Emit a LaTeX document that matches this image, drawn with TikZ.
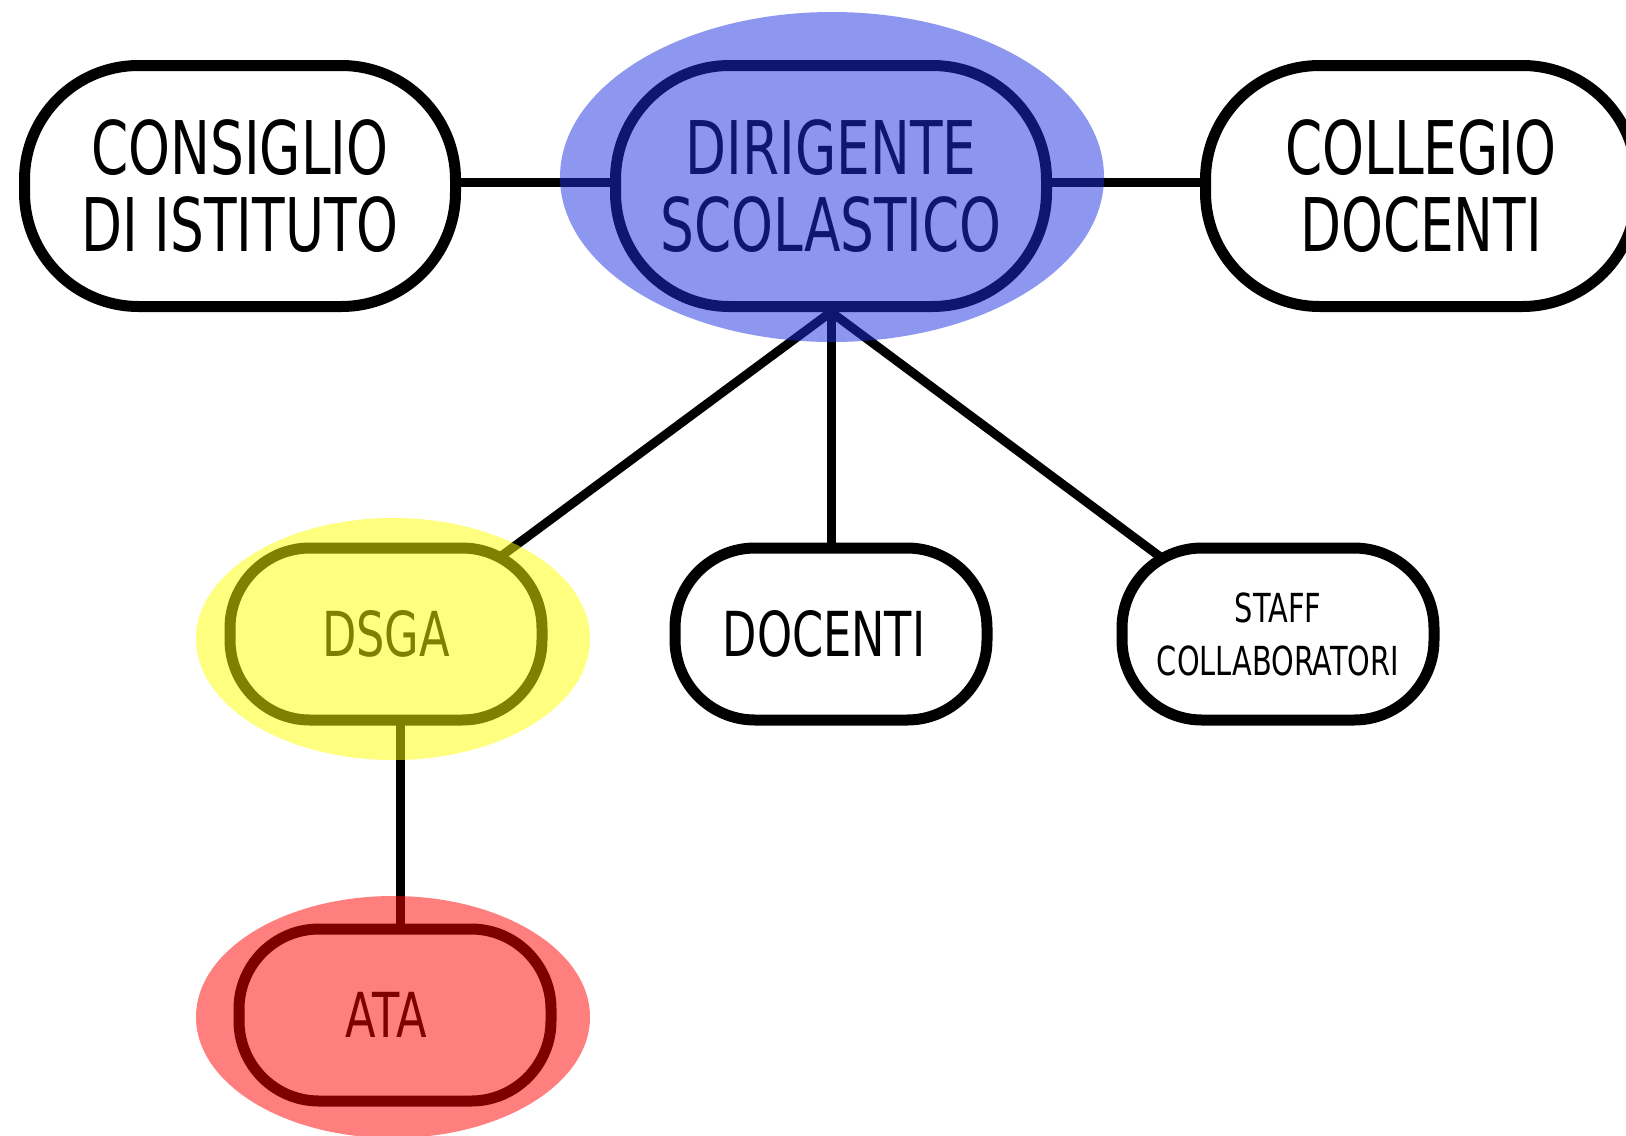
\documentclass[tikz,border=0pt]{standalone}
\usepackage{fontspec}
\newfontfamily\lab[FakeStretch=0.72]{DejaVu Sans}
\usetikzlibrary{calc}
\pgfdeclarelayer{background}
\pgfsetlayers{background,main}
\definecolor{hblue}{RGB}{27,47,225}
\definecolor{hyellow}{RGB}{255,255,0}
\definecolor{hred}{RGB}{255,0,0}
\begin{document}
\begin{tikzpicture}[x=0.5pt,y=-0.5pt,
  pill/.style={draw=black, fill=white, line width=5.5pt, rounded corners=57pt,
    minimum width=215.5pt, minimum height=120.5pt, align=center, inner sep=0pt,
    font=\lab\fontsize{37}{38.5}\selectfont},
  smallpill/.style={pill, rounded corners=40pt, minimum width=156pt, minimum height=86pt,
    font=\lab\fontsize{31}{33}\selectfont},
  conn/.style={draw=black, line width=4.5pt},
  halo/.style={fill opacity=0.5}]
\useasboundingbox (0,0) rectangle (1626,1135);
\clip (0,0) rectangle (1626,1135);

% nodes
\node[pill] (cons) at (240,186) {CONSIGLIO\\DI ISTITUTO};
\node[pill] (dir) at (831,186) {DIRIGENTE\\SCOLASTICO};
\node[pill] (col) at (1421,186) {COLLEGIO\\DOCENTI};
\node[smallpill] (dsga) at (386,634) {DSGA};
\node[smallpill] (doc) at (831,634) {DOCENTI\hspace*{7pt}};
\node[smallpill, font=\lab\fontsize{20}{26.5}\selectfont] (staff) at (1278,634) {STAFF\\COLLABORATORI};
\node[smallpill] (ata) at (395,1015) {ATA\hspace*{9pt}};

% connectors
\begin{pgfonlayer}{background}
\draw[conn] ([yshift=2pt]cons.east) -- ([yshift=2pt]dir.west);
\draw[conn] ([yshift=2pt]dir.east) -- ([yshift=2pt]col.west);
\draw[conn] (dir.south) -- ($(dsga.center)+(10,0)$);
\draw[conn] (dir.south) -- (doc.center);
\draw[conn] (dir.south) -- ($(staff.center)+(-14,0)$);
\draw[conn] ($(dsga.center)+(14,0)$) -- ($(ata.center)+(5,0)$);
\end{pgfonlayer}

% highlights
\fill[hblue, halo] (832,177) ellipse [x radius=136pt, y radius=82.5pt];
\fill[hyellow, halo] (393,639) ellipse [x radius=98.5pt, y radius=60.5pt];
\fill[hred, halo] (393,1017) ellipse [x radius=98.5pt, y radius=60.5pt];
\end{tikzpicture}
\end{document}
